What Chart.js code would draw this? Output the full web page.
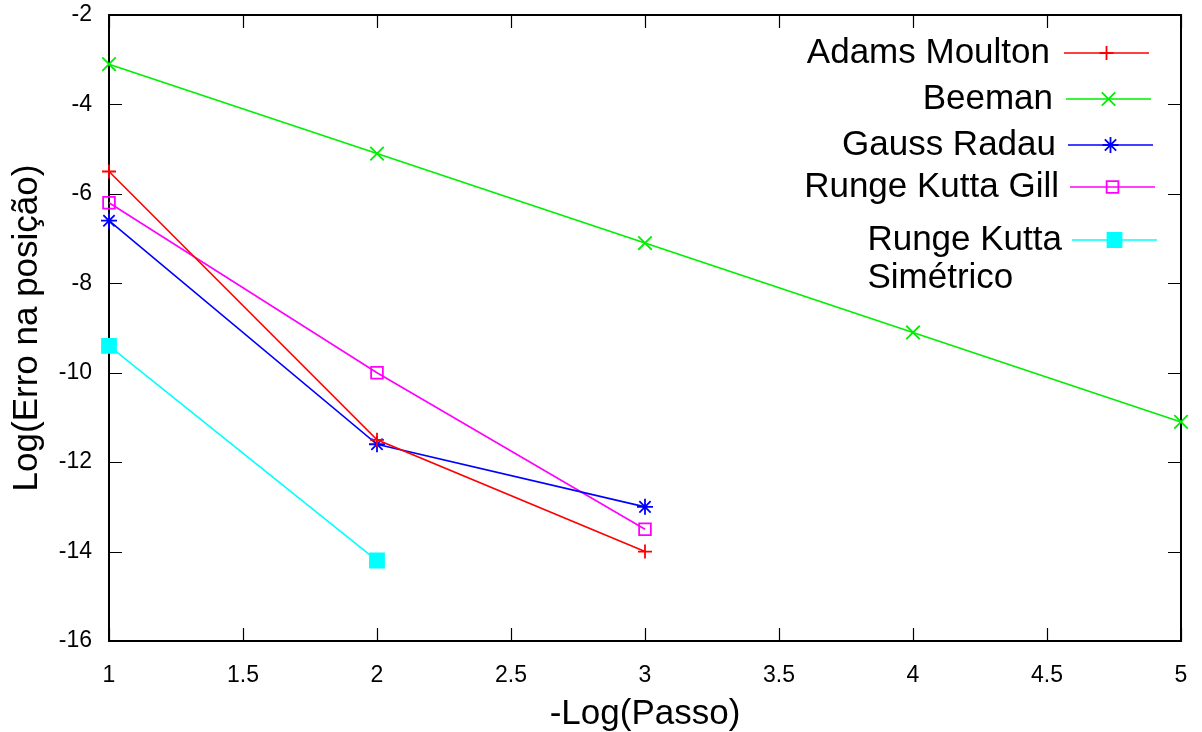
<!DOCTYPE html>
<html lang="pt">
<head>
<meta charset="utf-8">
<title>Erro na posição</title>
<script src="https://cdn.jsdelivr.net/npm/chart.js@4/dist/chart.umd.min.js"></script>
<style>
    body { margin: 0; background: #fff; }
    canvas { display: block; }
</style>
</head>
<body>
<canvas id="grafico-erro" width="1202" height="732"></canvas>
<script>
// -Log(Passo) no eixo X
const passos = [1, 2, 3, 4, 5];

// Log(Erro na posição) de cada método
const adamsMoulton = [-5.5, -11.5, -14];
const beeman = [-3.1, -5.1, -7.1, -9.1, -11.1];
const gaussRadau = [-6.6, -11.6, -13];
const rungeKuttaGill = [-6.2, -10, -13.5];
const rungeKuttaSimetrico = [-9.4, -14.2];

const nomesMetodos = ['Adams Moulton', 'Beeman', 'Gauss Radau', 'Runge Kutta Gill', ['Runge Kutta', 'Simétrico']];

// limites e passo dos eixos
const eixoX = { min: 1, max: 5, passo: 0.5 };
const eixoY = { min: -16, max: -2, passo: 2 };

const fonte = 'Liberation Sans, Arial, sans-serif';

// junta x e y num array de pontos
function pontos(valores) {
    return valores.map((v, i) => ({ x: passos[i], y: v }));
}

// Moldura com marcas para dentro nos quatro lados (estilo gnuplot)
const pluginMoldura = {
    id: 'moldura',
    beforeDatasetsDraw: (chart) => {
        const { ctx, chartArea: a, scales } = chart;
        const tam = 13;
        ctx.save();
        ctx.strokeStyle = '#000';
        ctx.lineWidth = 1.2;
        ctx.beginPath();
        scales.x.ticks.forEach(t => {
            const px = Math.round(scales.x.getPixelForValue(t.value)) + 0.5;
            ctx.moveTo(px, a.bottom); ctx.lineTo(px, a.bottom - tam);
            ctx.moveTo(px, a.top); ctx.lineTo(px, a.top + tam);
        });
        scales.y.ticks.forEach(t => {
            const py = Math.round(scales.y.getPixelForValue(t.value)) + 0.5;
            ctx.moveTo(a.left, py); ctx.lineTo(a.left + tam, py);
            ctx.moveTo(a.right, py); ctx.lineTo(a.right - tam, py);
        });
        ctx.stroke();
        ctx.lineWidth = 2;
        ctx.strokeRect(a.left, a.top, a.right - a.left, a.bottom - a.top);
        ctx.restore();
    }
};

// Legenda dentro do gráfico: texto alinhado à direita e amostra da linha
const pluginLegenda = {
    id: 'legendaGnuplot',
    afterDraw: (chart) => {
        const ctx = chart.ctx;
        const linhasY = [53, 99, 145, 187, 240];
        const alturaLinha = 38;
        ctx.save();
        ctx.font = '35px ' + fonte;
        ctx.textBaseline = 'middle';
        ctx.textAlign = 'left';
        chart.data.datasets.forEach((ds, i) => {
            const y = linhasY[i];
            const fimTexto = 1050 + 3 * i;
            const iniLinha = 1064 + 2 * i;
            const fimLinha = 1149 + 2 * i;
            const textos = Array.isArray(ds.label) ? ds.label : [ds.label];
            const largura = Math.max(...textos.map(t => ctx.measureText(t).width));
            ctx.fillStyle = '#000';
            textos.forEach((t, k) => {
                const w = ctx.measureText(t).width;
                const x = textos.length > 1 ? fimTexto - largura : fimTexto - w;
                ctx.fillText(t, x, y + k * alturaLinha);
            });
            ctx.strokeStyle = ds.borderColor;
            ctx.lineWidth = ds.borderWidth;
            ctx.beginPath();
            ctx.moveTo(iniLinha, y);
            ctx.lineTo(fimLinha, y);
            ctx.stroke();
            desenharMarca(ctx, ds, (iniLinha + fimLinha) / 2, y);
        });
        ctx.restore();
    }
};

function desenharMarca(ctx, ds, x, y) {
    ctx.save();
    ctx.fillStyle = ds.pointBackgroundColor;
    ctx.strokeStyle = ds.borderColor;
    ctx.lineWidth = ds.pointBorderWidth;
    Chart.helpers.drawPoint(ctx, {
        pointStyle: ds.pointStyle,
        radius: ds.pointRadius,
        rotation: 0,
        borderWidth: ds.pointBorderWidth
    }, x, y);
    ctx.restore();
}

function serie(label, valores, cor, estilo, raio, fundo) {
    return {
        label: label,
        data: pontos(valores),
        borderColor: cor,
        backgroundColor: cor,
        borderWidth: 1.6,
        pointStyle: estilo,
        pointRadius: raio,
        pointHoverRadius: raio,
        pointBorderWidth: 1.8,
        pointBorderColor: cor,
        pointBackgroundColor: fundo,
        tension: 0,
        fill: false,
        clip: false
    };
}

new Chart(document.getElementById('grafico-erro').getContext('2d'), {
    type: 'line',
    data: {
        datasets: [
            serie(nomesMetodos[0], adamsMoulton, '#ff0000', 'cross', 7, '#ff0000'),
            serie(nomesMetodos[1], beeman, '#00ee00', 'crossRot', 9.5, '#00ee00'),
            serie(nomesMetodos[2], gaussRadau, '#0000ff', 'star', 8, '#0000ff'),
            serie(nomesMetodos[3], rungeKuttaGill, '#ff00ff', 'rect', 8.3, 'rgba(0,0,0,0)'),
            serie(nomesMetodos[4], rungeKuttaSimetrico, '#00ffff', 'rect', 9.9, '#00ffff')
        ]
    },
    options: {
        responsive: false,
        animation: false,
        events: [],
        layout: { padding: { top: 15, right: 21, bottom: 0, left: 0 } },
        plugins: {
            legend: { display: false },
            tooltip: { enabled: false }
        },
        scales: {
            x: {
                type: 'linear',
                min: eixoX.min,
                max: eixoX.max,
                grid: { display: false, drawTicks: false },
                border: { display: false },
                ticks: {
                    stepSize: eixoX.passo,
                    padding: 21,
                    color: '#000',
                    maxRotation: 0,
                    font: { family: fonte, size: 23 },
                    callback: (v) => String(v)
                },
                title: {
                    display: true,
                    text: '-Log(Passo)',
                    color: '#000',
                    padding: 0,
                    font: { family: fonte, size: 35, lineHeight: 1 }
                },
                afterFit: (scale) => {
                    scale.height = 91;
                    scale.paddingLeft = 0;
                    scale.paddingRight = 0;
                }
            },
            y: {
                min: eixoY.min,
                max: eixoY.max,
                grid: { display: false, drawTicks: false },
                border: { display: false },
                ticks: {
                    stepSize: eixoY.passo,
                    padding: 17,
                    color: '#000',
                    font: { family: fonte, size: 23 },
                    callback: (v) => String(v)
                },
                title: {
                    display: true,
                    text: 'Log(Erro na posição)',
                    color: '#000',
                    padding: { top: 6, bottom: 0 },
                    font: { family: fonte, size: 35, lineHeight: 1.2 }
                },
                afterFit: (scale) => {
                    scale.width = 109;
                    scale.paddingTop = 0;
                    scale.paddingBottom = 0;
                }
            }
        }
    },
    plugins: [pluginMoldura, pluginLegenda]
});
</script>
</body>
</html>
